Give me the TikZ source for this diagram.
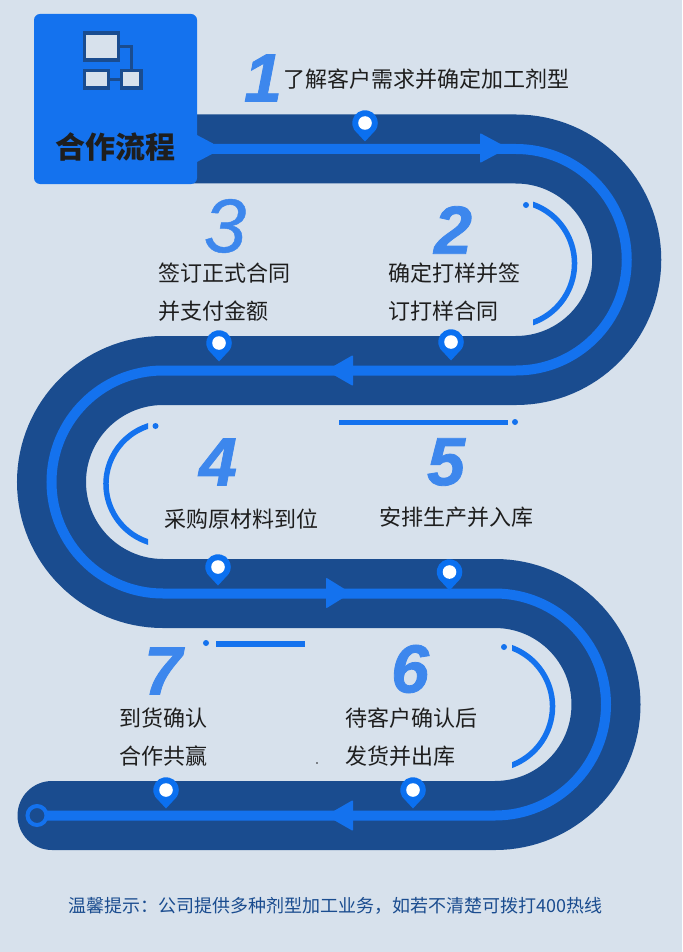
\documentclass[tikz,border=0pt]{standalone}
\usepackage{fontspec}
\setmainfont{Noto Sans CJK SC}
\newfontfamily\numfont{Liberation Sans}[BoldItalicFeatures={FakeBold=1.2},ItalicFeatures={FakeBold=0.6}]
\definecolor{pagebg}{HTML}{D7E1EC}
\definecolor{banddark}{HTML}{1A4C8F}
\definecolor{brightblue}{HTML}{1472EE}
\definecolor{pinblue}{HTML}{0B70F0}
\definecolor{numblue}{HTML}{3D87ED}
\definecolor{inktext}{HTML}{1E1E1E}
\tikzset{
  stepnum/.style={font=\numfont\bfseries\itshape\fontsize{68}{68}\selectfont,text=numblue,inner sep=0pt,anchor=center},
  thinnum/.style={font=\numfont\itshape\fontsize{76}{76}\selectfont,text=numblue,inner sep=0pt,anchor=center},
  steptext/.style={font=\fontsize{22}{26}\selectfont,text=inktext,inner sep=0pt,anchor=west},
  accent/.style={draw=brightblue,line width=5.5pt},
  accentdot/.style={fill=brightblue,draw=none},
  iconbox/.style={draw=banddark,line width=3.2pt,fill=pagebg},
  mapin/.pic={
    \fill[pinblue] (212:12.8) arc[start angle=212,end angle=-32,radius=12.8] -- (0,-18.5) -- cycle;
    \fill[white] (0,0) circle[radius=6.8];
  }
}
\begin{document}
\begin{tikzpicture}[x=1pt,y=1pt,yscale=-1]
\useasboundingbox (0,0) rectangle (682,952);
\fill[pagebg] (0,0) rectangle (682,952);
% band
\draw[banddark,line width=69pt,line cap=round]
  (52,815.5) -- (495,815.5) arc[start angle=90,end angle=-90,radius=111]
  -- (163,593.5) arc[start angle=90,end angle=270,radius=111.5]
  -- (516,370.5) arc[start angle=90,end angle=-90,radius=110.75]
  -- (190,149);
% centre line
\draw[brightblue,line width=10pt]
  (46,815.5) -- (495,815.5) arc[start angle=90,end angle=-90,radius=111]
  -- (163,593.5) arc[start angle=90,end angle=270,radius=111.5]
  -- (516,370.5) arc[start angle=90,end angle=-90,radius=110.75]
  -- (190,149) -- (190,148);
% start ring
\node[circle,draw=brightblue,line width=4pt,fill=banddark,minimum size=19pt,inner sep=0pt] (startring) at (37,815.5) {};
% arrow heads
\fill[brightblue,rounded corners=1pt] (480,133) -- (508,148) -- (480,163) -- cycle;
\fill[brightblue,rounded corners=1pt] (353,355) -- (326,370.5) -- (353,386) -- cycle;
\fill[brightblue,rounded corners=1pt] (326,577.5) -- (351,593) -- (326,608.5) -- cycle;
\fill[brightblue,rounded corners=1pt] (353,800) -- (326,815.5) -- (353,831) -- cycle;
% header box
\fill[brightblue] (195,134) -- (213,143.5) -- (213,153.5) -- (195,163) -- cycle;
\fill[brightblue,rounded corners=6pt] (34,14) rectangle (197,184);
\draw[banddark,line width=3pt] (118,47) -- (131,47) -- (131,70);
\draw[banddark,line width=3pt] (108,79.5) -- (121,79.5);
\draw[iconbox] (84.5,33) rectangle (118.5,60);
\draw[iconbox] (84.5,70.5) rectangle (108.5,88);
\draw[iconbox] (121.5,70.5) rectangle (141,88);
\node[font=\bfseries\fontsize{30}{34}\selectfont,text=inktext,inner sep=0pt] (title) at (115.5,147) {合作流程};
% pins
\pic at (365,123) {mapin};
\pic at (219,343) {mapin};
\pic at (451,342) {mapin};
\pic at (218,567) {mapin};
\pic at (449.5,572) {mapin};
\pic at (166,790) {mapin};
\pic at (413,790) {mapin};
% accents
\begin{scope}
  \clip (533,190) rectangle (600,340);
  \draw[accent] ([shift={(511.8,263.5)}]-76:62.7) arc[start angle=-76,end angle=76,radius=62.7];
\end{scope}
\fill[accentdot] (526,205) circle[radius=3];
\begin{scope}
  \clip (90,415) rectangle (148,555);
  \draw[accent] ([shift={(167,484)}]256:61) arc[start angle=256,end angle=104,radius=61];
\end{scope}
\fill[accentdot] (155.5,426) circle[radius=3];
\begin{scope}
  \clip (512,635) rectangle (580,780);
  \draw[accent] ([shift={(489.8,706.5)}]-76:62.7) arc[start angle=-76,end angle=76,radius=62.7];
\end{scope}
\fill[accentdot] (504,647) circle[radius=3];
\draw[accent] (339,422.3) -- (508,422.3);
\fill[accentdot] (515,422) circle[radius=3];
\draw[accent] (216,644) -- (305,644);
\fill[accentdot] (206,643) circle[radius=3];
% numbers
\node[stepnum] (n1) at (263,78) {1};
\node[stepnum] (n2) at (453,230) {2};
\node[thinnum] (n3) at (225,226) {3};
\node[stepnum] (n4) at (218,462) {4};
\node[stepnum] (n5) at (446,462) {5};
\node[stepnum] (n6) at (410,669) {6};
\node[stepnum] (n7) at (163,671) {7};
% texts
\node[steptext] (t1) at (283.5,79) {了解客户需求并确定加工剂型};
\node[steptext] (t2a) at (388,273) {确定打样并签};
\node[steptext] (t2b) at (388,311) {订打样合同};
\node[steptext] (t3a) at (158,273) {签订正式合同};
\node[steptext] (t3b) at (158,311) {并支付金额};
\node[steptext] (t4) at (164,519) {采购原材料到位};
\node[steptext] (t5) at (379,517) {安排生产并入库};
\node[steptext] (t6a) at (345,718) {待客户确认后};
\node[steptext] (t6b) at (345,756) {发货并出库};
\node[steptext] (t7a) at (119,718) {到货确认};
\node[steptext] (t7b) at (119,756) {合作共赢};
\node[font=\fontsize{18}{22}\selectfont,text=banddark,inner sep=0pt,anchor=west] (tip) at (68,906) {温馨提示^^^^ff1a公司提供多种剂型加工业务^^^^ff0c如若不清楚可拨打400热线};
\fill[inktext] (317,763) circle[radius=0.8];
\end{tikzpicture}
\end{document}
